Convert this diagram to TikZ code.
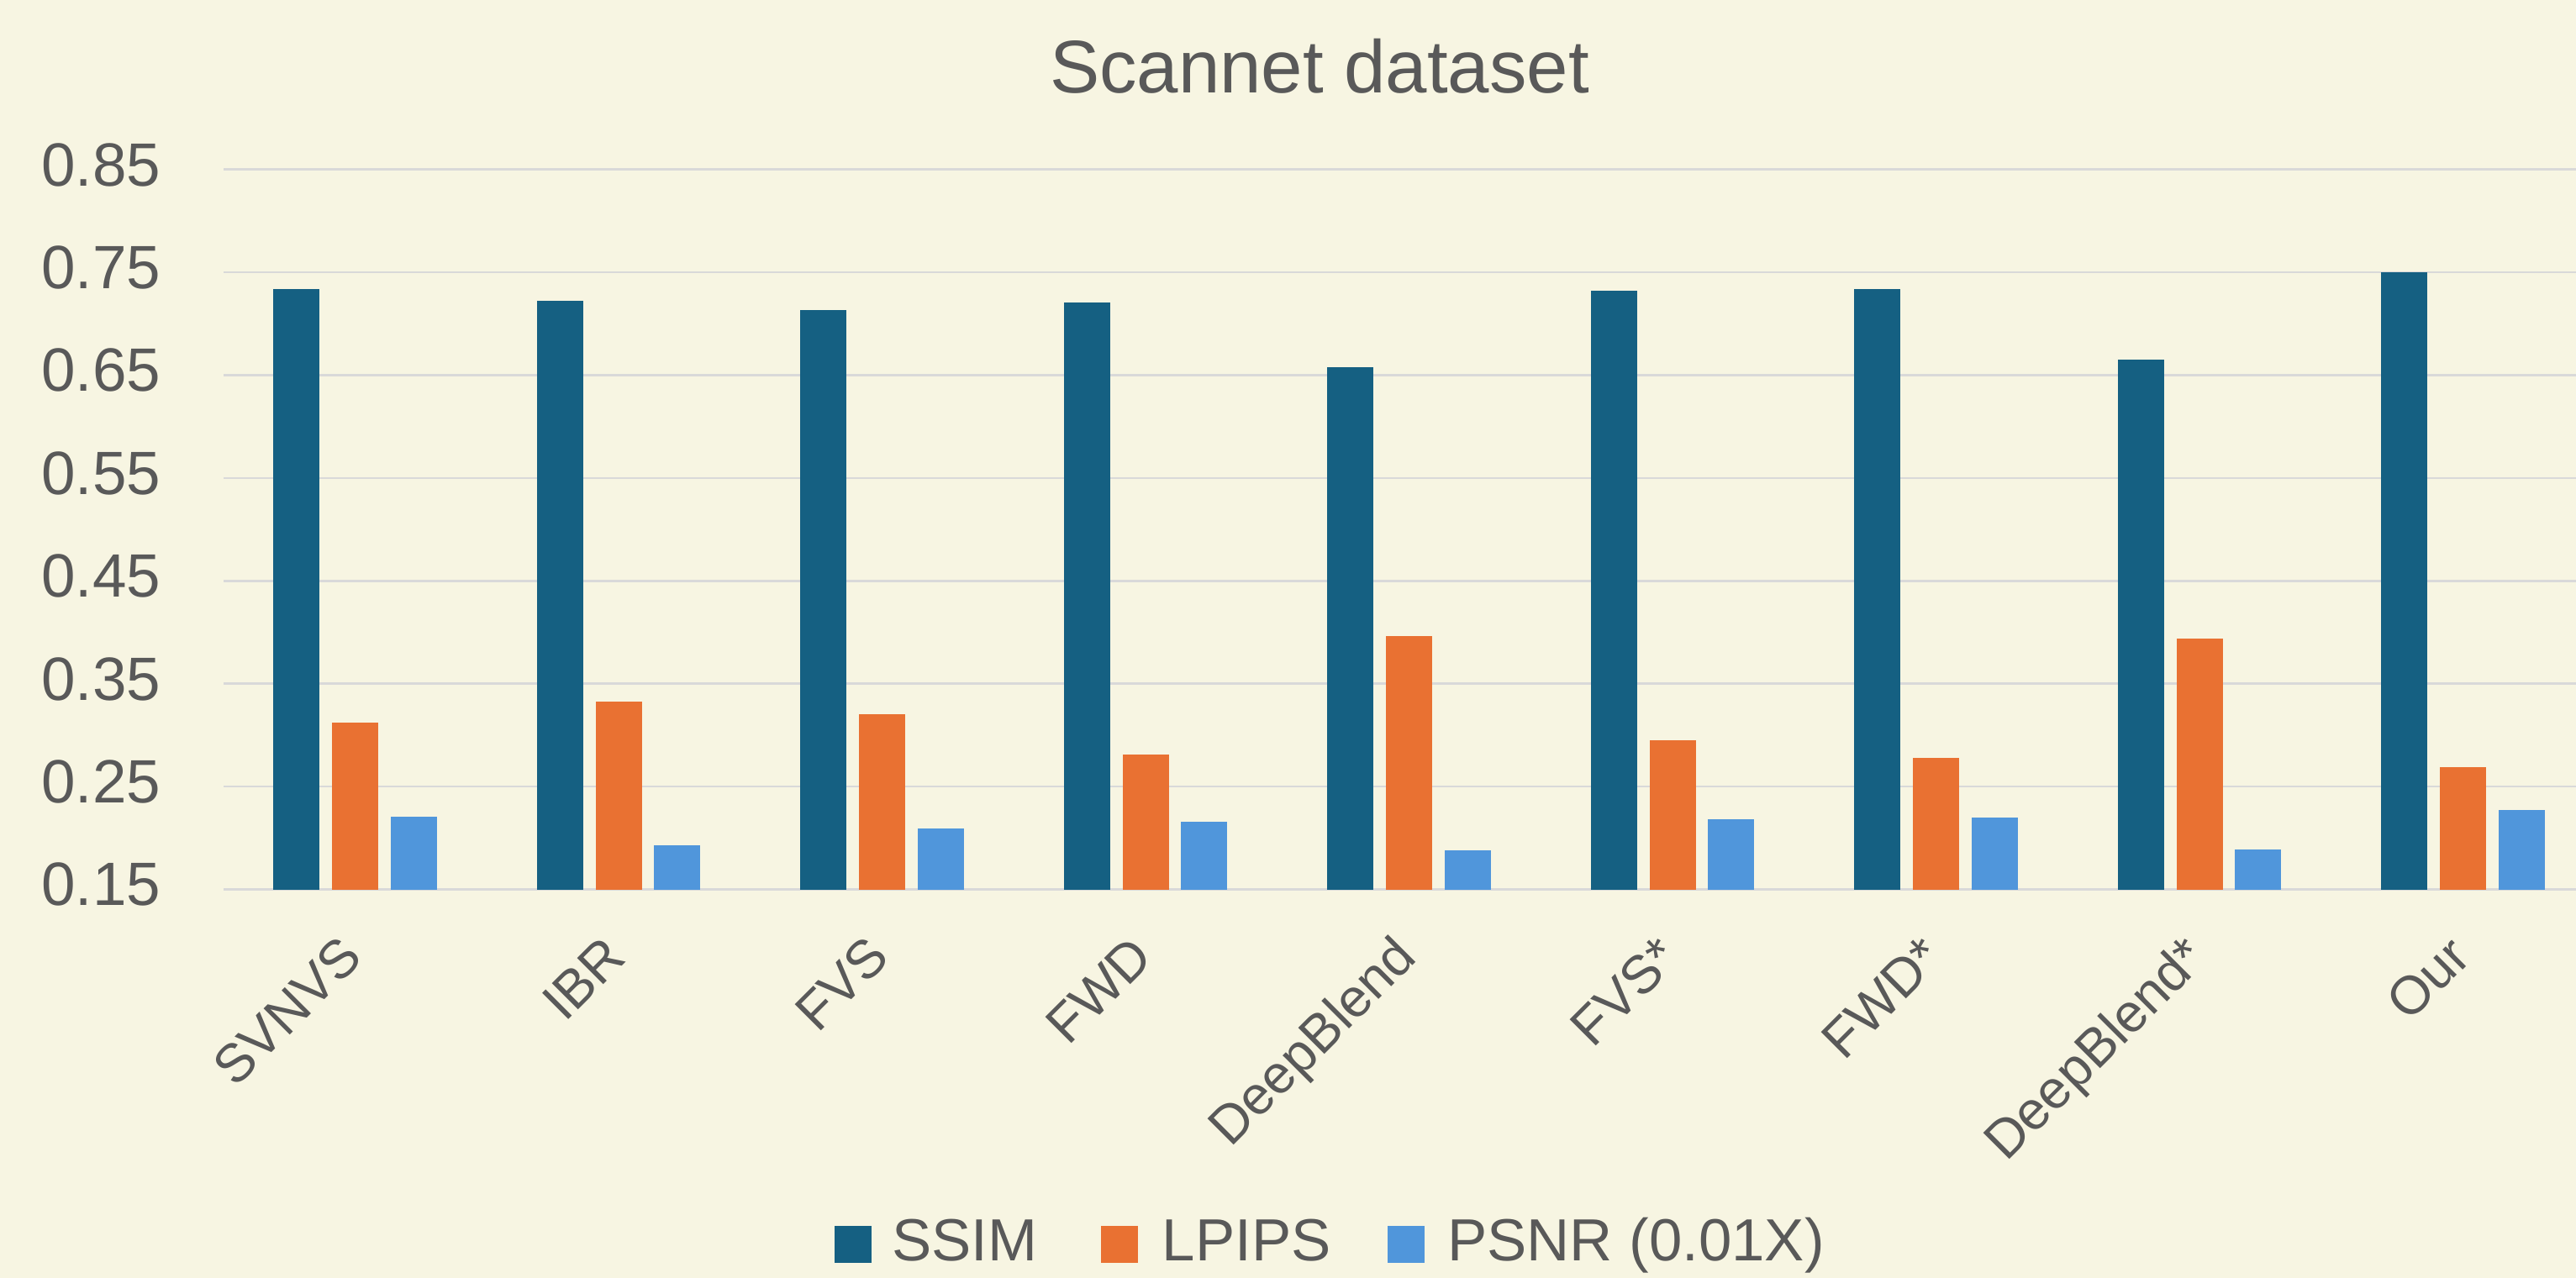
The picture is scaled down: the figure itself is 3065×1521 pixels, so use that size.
\documentclass[tikz,border=0pt]{standalone}
\usepackage{fontspec}
\setmainfont{Liberation Sans}
\definecolor{bg}{HTML}{F7F5E2}
\definecolor{gridc}{HTML}{D9D9D9}
\definecolor{txt}{HTML}{595959}
\definecolor{cssim}{HTML}{156082}
\definecolor{clpips}{HTML}{E97132}
\definecolor{cpsnr}{HTML}{5096DB}
\begin{document}
\begin{tikzpicture}[x=0.25pt,y=-0.25pt,
  gridline/.style={draw=gridc,line width=0.65pt},
  ticklab/.style={text=txt,anchor=east,inner sep=0pt,text height=0.716em,text depth=0pt,font=\fontsize{18.2}{20}\selectfont},
  catlab/.style={text=txt,rotate=45,anchor=north east,inner sep=0pt,text height=0.716em,text depth=0.2em,font=\fontsize{16}{18}\selectfont},
  leglab/.style={text=txt,anchor=base west,inner sep=0pt,font=\fontsize{17.7}{20}\selectfont},
  titlelab/.style={text=txt,anchor=base,inner sep=0pt,font=\fontsize{22.2}{24}\selectfont}]
\useasboundingbox (0,0) rectangle (3065,1521);
\fill[bg] (0,0) rectangle (3065,1521);
% title
\node[titlelab] (title) at (1570,110.7) {Scannet dataset};
% grid and ticks
\foreach \lab [count=\i from 0] in {0.15,0.25,0.35,0.45,0.55,0.65,0.75,0.85}{
  \pgfmathsetmacro\yy{1058.5-122.4*\i}
  \draw[gridline] (266,\yy) -- (3065,\yy);
  \node[ticklab] (t\i) at (192,\yy+5) {\lab};
}
% bars
\foreach \name/\a/\b/\c [count=\k from 0] in {SVNVS/0.734/0.312/0.221,IBR/0.722/0.333/0.193,FVS/0.713/0.320/0.209,FWD/0.721/0.281/0.216,DeepBlend/0.658/0.396/0.188,FVS*/0.732/0.295/0.218,FWD*/0.734/0.278/0.220,DeepBlend*/0.665/0.394/0.189,Our/0.750/0.269/0.227}{
  \pgfmathsetmacro\xl{325.3+313.5*\k}
  \pgfmathsetmacro\ya{1058.5-(\a-0.15)*1224}
  \pgfmathsetmacro\yb{1058.5-(\b-0.15)*1224}
  \pgfmathsetmacro\yc{1058.5-(\c-0.15)*1224}
  \fill[cssim] (\xl,1058.5) rectangle (\xl+55,\ya);
  \fill[clpips] (\xl+70,1058.5) rectangle (\xl+125,\yb);
  \fill[cpsnr] (\xl+139.5,1058.5) rectangle (\xl+194.5,\yc);
  \node[catlab] (c\k) at (\xl+88.5,1121) {\name};
}
% legend
\fill[cssim] (992.9,1459) rectangle (1036.6,1503);
\node[leglab] (l1) at (1060.7,1500.7) {SSIM};
\fill[clpips] (1309.8,1459) rectangle (1353.6,1503);
\node[leglab] (l2) at (1382,1500.7) {LPIPS};
\fill[cpsnr] (1650.9,1459) rectangle (1694.6,1503);
\node[leglab] (l3) at (1721.4,1500.7) {PSNR (0.01X)};
\end{tikzpicture}
\end{document}
